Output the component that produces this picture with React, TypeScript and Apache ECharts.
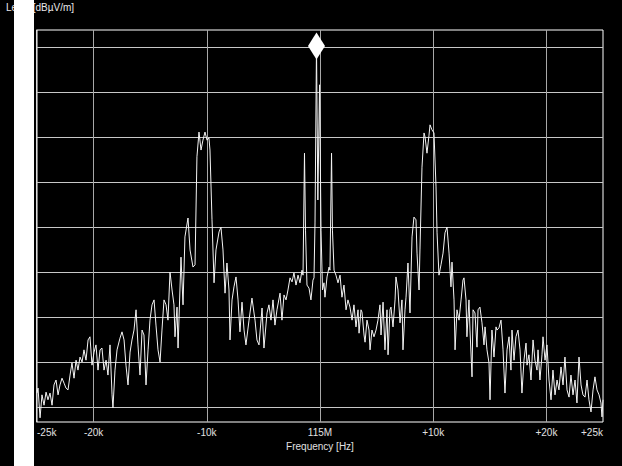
import React, { useEffect, useRef } from "react";
import * as echarts from "echarts";

// Frequency offset from 115 MHz (kHz), level (dBµV/m)
const spectrum: [number, number][] = [
  [-25.0, 3.1], [-24.91, 4.2], [-24.73, -2.4], [-24.56, 2.7], [-24.38, 0.4], [-24.2, 3.3], [-24.03, 1.6],
  [-23.85, 3.1], [-23.67, 0.4], [-23.5, 4.9], [-23.32, 6.0], [-23.14, 2.7], [-22.97, 4.9], [-22.79, 6.4],
  [-22.61, 5.3], [-22.44, 4.2], [-22.26, 3.8], [-22.08, 7.1], [-21.91, 9.8], [-21.73, 6.4], [-21.55, 10.4],
  [-21.38, 8.2], [-21.2, 11.1], [-21.02, 10.0], [-20.85, 12.7], [-20.67, 10.4], [-20.49, 14.9], [-20.32, 15.6],
  [-20.14, 9.3], [-19.96, 12.2], [-19.79, 13.8], [-19.61, 8.2], [-19.43, 12.7], [-19.26, 13.1], [-19.08, 8.2],
  [-18.9, 10.4], [-18.73, 7.1], [-18.55, 13.8], [-18.37, 2.7], [-18.29, -0.2], [-18.11, 8.2], [-17.93, 12.7],
  [-17.67, 15.3], [-17.49, 16.7], [-17.31, 14.9], [-17.14, 9.3], [-16.96, 4.9], [-16.78, 12.2], [-16.61, 14.9],
  [-16.43, 17.1], [-16.25, 21.6], [-16.08, 13.8], [-15.9, 7.1], [-15.72, 17.1], [-15.55, 16.0], [-15.37, 4.9],
  [-15.19, 12.7], [-15.02, 19.3], [-14.84, 22.7], [-14.66, 23.8], [-14.49, 18.2], [-14.31, 12.7], [-14.13, 10.0],
  [-13.96, 17.1], [-13.78, 23.8], [-13.6, 22.7], [-13.43, 19.3], [-13.25, 30.0], [-13.07, 26.0], [-12.9, 22.7],
  [-12.81, 15.6], [-12.63, 22.2], [-12.54, 13.1], [-12.28, 33.3], [-12.1, 22.7], [-11.93, 37.8], [-11.66, 42.0],
  [-11.48, 34.9], [-11.22, 31.1], [-11.04, 31.6], [-10.87, 55.6], [-10.69, 61.1], [-10.51, 57.1], [-10.34, 59.3],
  [-10.16, 61.1], [-9.98, 59.3], [-9.81, 59.8], [-9.72, 57.1], [-9.54, 41.6], [-9.36, 27.6], [-9.19, 34.9],
  [-8.92, 38.9], [-8.75, 40.0], [-8.57, 34.9], [-8.39, 25.3], [-8.22, 32.0], [-8.04, 26.0], [-7.95, 14.9],
  [-7.77, 23.8], [-7.6, 26.7], [-7.42, 28.9], [-7.24, 23.8], [-7.07, 16.7], [-6.89, 23.3], [-6.71, 17.1],
  [-6.54, 13.8], [-6.27, 19.3], [-6.01, 24.2], [-5.74, 19.3], [-5.57, 14.9], [-5.39, 13.8], [-5.12, 22.0],
  [-4.95, 13.1], [-4.68, 20.9], [-4.51, 22.7], [-4.33, 19.3], [-4.15, 23.8], [-3.98, 18.2], [-3.8, 21.6],
  [-3.53, 25.3], [-3.36, 19.3], [-3.18, 24.9], [-3.0, 23.8], [-2.83, 26.0], [-2.65, 28.7], [-2.47, 27.8],
  [-2.3, 29.8], [-2.12, 27.1], [-1.94, 29.3], [-1.77, 27.6], [-1.59, 30.4], [-1.5, 29.3], [-1.37, 56.4],
  [-1.28, 39.3], [-1.15, 27.1], [-0.97, 26.4], [-0.8, 23.8], [-0.62, 28.2], [-0.53, 28.7], [-0.44, 41.1],
  [-0.31, 80.2], [-0.19, 46.0], [-0.04, 71.6], [0.09, 39.3], [0.22, 26.0], [0.35, 27.6], [0.44, 24.4],
  [0.62, 28.9], [0.8, 31.1], [0.88, 30.4], [1.02, 56.4], [1.1, 39.3], [1.24, 30.4], [1.41, 29.3],
  [1.59, 27.6], [1.77, 29.3], [1.94, 24.4], [2.12, 27.1], [2.3, 21.6], [2.47, 23.8], [2.65, 22.2],
  [2.83, 19.3], [3.0, 22.7], [3.18, 17.8], [3.36, 21.6], [3.45, 16.4], [3.62, 21.6], [3.71, 21.1],
  [3.89, 16.0], [3.98, 14.4], [4.15, 19.3], [4.33, 17.1], [4.42, 12.7], [4.59, 17.1], [4.77, 15.6],
  [4.95, 17.1], [5.12, 19.3], [5.3, 22.7], [5.39, 16.0], [5.57, 23.3], [5.74, 12.7], [5.92, 21.6],
  [6.01, 11.6], [6.18, 21.6], [6.27, 22.2], [6.45, 17.8], [6.63, 23.8], [6.71, 28.9], [6.89, 26.0],
  [7.07, 18.7], [7.24, 23.8], [7.33, 12.7], [7.51, 21.6], [7.6, 24.4], [7.77, 32.0], [7.95, 20.9],
  [8.13, 37.8], [8.3, 42.2], [8.48, 41.6], [8.57, 34.2], [8.75, 26.0], [8.83, 34.9], [9.01, 53.3],
  [9.19, 60.9], [9.28, 60.0], [9.45, 56.4], [9.63, 60.4], [9.72, 62.7], [9.89, 61.6], [10.07, 60.9],
  [10.25, 48.9], [10.34, 38.7], [10.51, 29.3], [10.69, 31.6], [10.87, 34.2], [11.04, 38.7], [11.22, 40.0],
  [11.4, 34.2], [11.57, 26.7], [11.66, 32.2], [11.84, 23.8], [11.93, 12.7], [12.1, 21.6], [12.28, 19.3],
  [12.46, 23.8], [12.63, 28.2], [12.72, 28.7], [12.9, 23.8], [12.98, 15.6], [13.16, 23.8], [13.25, 17.1],
  [13.43, 6.7], [13.52, 21.6], [13.69, 20.9], [13.87, 13.3], [13.96, 21.6], [14.13, 22.2], [14.31, 18.7],
  [14.49, 13.8], [14.58, 17.8], [14.75, 12.7], [14.93, 9.8], [15.02, 1.6], [15.19, 17.1], [15.37, 11.1],
  [15.55, 17.8], [15.64, 17.1], [15.81, 17.6], [15.99, 19.3], [16.17, 12.7], [16.34, 3.1], [16.52, 12.7],
  [16.7, 15.6], [16.87, 8.2], [16.96, 17.1], [17.14, 10.4], [17.31, 15.6], [17.49, 17.1], [17.67, 12.7],
  [17.84, 3.1], [18.02, 10.4], [18.2, 14.2], [18.29, 9.3], [18.46, 11.6], [18.64, 6.0], [18.82, 14.9],
  [18.99, 10.4], [19.17, 8.2], [19.26, 12.7], [19.43, 6.0], [19.61, 11.6], [19.7, 15.6], [19.88, 10.4],
  [20.05, 13.8], [20.23, 6.0], [20.41, 1.6], [20.58, 8.2], [20.76, 2.7], [20.94, 6.0], [21.11, 3.8],
  [21.29, 8.9], [21.47, 4.9], [21.64, 11.1], [21.82, 3.8], [22.0, 2.2], [22.17, 7.1], [22.35, 2.7],
  [22.53, 6.0], [22.7, 0.9], [22.88, 11.1], [23.06, 4.9], [23.23, 2.7], [23.41, 2.2], [23.59, 6.0],
  [23.76, 1.6], [23.94, -1.1], [24.12, 3.8], [24.29, 6.7], [24.47, 3.8], [24.65, 2.7], [24.82, 0.9],
  [24.91, -2.2], [25.0, 1.6],
];

const gridLevels = [0, 10, 20, 30, 40, 50, 60, 70, 80];
const gridFreqs = [-20, -10, 0, 10, 20];
const tickLabels: Record<string, string> = {
  "-25": "-25k",
  "-20": "-20k",
  "-10": "-10k",
  "0": "115M",
  "10": "+10k",
  "20": "+20k",
  "25": "+25k",
};
const yTitle = "Level [dBµV/m]";
const xTitle = "Frequency [Hz]";

const FONT = "'Liberation Sans', Arial, sans-serif";

export default function App() {
  const ref = useRef<HTMLDivElement>(null);
  useEffect(() => {
    if (!ref.current) return;
    const chart = echarts.init(ref.current, undefined, { renderer: "svg" });
    chart.setOption({
      animation: false,
      backgroundColor: "#000",
      textStyle: { fontFamily: FONT },
      title: {
        text: yTitle,
        left: 6,
        top: 2,
        padding: 0,
        z: 1,
        textStyle: { color: "#e8e8e8", fontSize: 10, fontWeight: "normal", fontFamily: FONT },
      },
      graphic: [
        { type: "rect", z: 100, shape: { x: 14, y: 0, width: 20, height: 466 }, style: { fill: "#fff" } },
      ],
      grid: {
        left: 37,
        top: 30,
        width: 566,
        height: 392,
        show: true,
        borderColor: "#fff",
        borderWidth: 1,
        backgroundColor: "transparent",
      },
      xAxis: {
        type: "value",
        min: -25,
        max: 25,
        interval: 5,
        name: xTitle,
        nameLocation: "middle",
        nameGap: 19,
        nameTextStyle: { color: "#e0e0e0", fontSize: 10, fontFamily: FONT },
        axisLine: { show: false },
        axisTick: { show: false },
        splitLine: { show: false },
        axisLabel: {
          color: "#e0e0e0",
          fontSize: 10,
          margin: 5,
          interval: 0,
          showMinLabel: true,
          showMaxLabel: true,
          alignMinLabel: "left",
          alignMaxLabel: "right",
          formatter: (v: number) => tickLabels[String(Math.round(v))] ?? "",
        },
      },
      yAxis: {
        type: "value",
        min: -3.333,
        max: 83.778,
        axisLine: { show: true, lineStyle: { color: "#ddd", width: 1 }, onZero: false },
        axisTick: { show: false },
        axisLabel: { show: false },
        splitLine: { show: false },
        offset: 1,
      },
      series: [
        {
          type: "line",
          data: spectrum,
          symbol: "none",
          lineStyle: { color: "#f4f4f4", width: 1 },
          z: 3,
          markLine: {
            silent: true,
            symbol: "none",
            label: { show: false },
            z: 1,
            lineStyle: { type: "solid", color: "#c8c8c8", width: 1 },
            data: [
              ...gridLevels.map((y) => ({ yAxis: y })),
              ...gridFreqs.map((x) => ({ xAxis: x, lineStyle: { color: "#a8a8a8" } })),
            ],
          },
          markPoint: {
            silent: true,
            symbol: "diamond",
            symbolSize: [17, 27],
            itemStyle: { color: "#fff" },
            label: { show: false },
            data: [{ type: "max" }],
          },
        },
      ],
    });
    return () => chart.dispose();
  }, []);
  return (
    <div
      ref={ref}
      style={{ position: "absolute", left: 0, top: 0, width: 622, height: 466, background: "#000" }}
    />
  );
}
